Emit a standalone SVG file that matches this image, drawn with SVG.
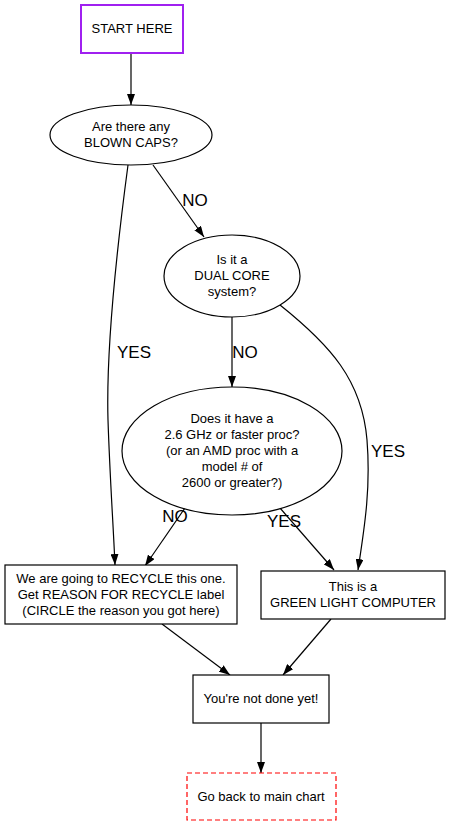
<svg xmlns="http://www.w3.org/2000/svg" width="451" height="827" viewBox="0 0 451 827">
<style>
.n{fill:#fff;stroke:#000;stroke-width:1.2}
.t{font-family:"Liberation Sans",Arial,sans-serif;font-size:13px;fill:#000;text-anchor:middle}
.l{font-family:"Liberation Sans",Arial,sans-serif;font-size:17px;fill:#000;text-anchor:middle}
.e{fill:none;stroke:#000;stroke-width:1.2}
</style>
<defs>
<marker id="a" markerWidth="11" markerHeight="8" refX="11" refY="4" orient="auto" markerUnits="userSpaceOnUse">
<path d="M0,0 L11,4 L0,8 Z" fill="#000"/>
</marker>
</defs>
<rect width="451" height="827" fill="#fff"/>
<g id="edges">
<path class="e" d="M131,53 L131,105" marker-end="url(#a)"/>
<path class="e" d="M153,165 L204,237" marker-end="url(#a)"/>
<path class="e" d="M128,165 C118,240 106,350 108,420 C110,480 113,520 115,565" marker-end="url(#a)"/>
<path class="e" d="M232,317 L232,387" marker-end="url(#a)"/>
<path class="e" d="M280,305 C330,345 362,380 367,440 C371,490 364,530 358,570" marker-end="url(#a)"/>
<path class="e" d="M185,508 L145,566" marker-end="url(#a)"/>
<path class="e" d="M280,508 L334,570" marker-end="url(#a)"/>
<path class="e" d="M162,624 L230,675" marker-end="url(#a)"/>
<path class="e" d="M331,619 L283,675" marker-end="url(#a)"/>
<path class="e" d="M261,723 L261,773" marker-end="url(#a)"/>
<text class="l" x="195" y="206">NO</text>
<text class="l" x="134" y="358">YES</text>
<text class="l" x="245" y="358">NO</text>
<text class="l" x="388" y="457">YES</text>
<text class="l" x="175" y="522">NO</text>
<text class="l" x="284" y="527">YES</text>
</g>
<g id="start">
<rect x="81" y="5" width="102" height="48" fill="#fff" stroke="#a020f0" stroke-width="2"/>
<text class="t" x="132" y="33">START HERE</text>
</g>
<g id="caps">
<ellipse class="n" cx="131" cy="135" rx="81" ry="30"/>
<text class="t" x="131" y="131">Are there any</text>
<text class="t" x="131" y="147">BLOWN CAPS?</text>
</g>
<g id="dual">
<ellipse class="n" cx="232" cy="276" rx="68" ry="41"/>
<text class="t" x="232" y="264">Is it a</text>
<text class="t" x="232" y="280">DUAL CORE</text>
<text class="t" x="232" y="296">system?</text>
</g>
<g id="ghz">
<ellipse class="n" cx="232" cy="451" rx="110" ry="64"/>
<text class="t" x="232" y="423">Does it have a</text>
<text class="t" x="232" y="439">2.6 GHz or faster proc?</text>
<text class="t" x="232" y="455">(or an AMD proc with a</text>
<text class="t" x="232" y="471">model # of</text>
<text class="t" x="232" y="487">2600 or greater?)</text>
</g>
<g id="recycle">
<rect class="n" x="5" y="565" width="232" height="59"/>
<text class="t" x="121" y="583">We are going to RECYCLE this one.</text>
<text class="t" x="121" y="599">Get REASON FOR RECYCLE label</text>
<text class="t" x="121" y="615">(CIRCLE the reason you got here)</text>
</g>
<g id="green">
<rect class="n" x="261" y="571" width="184" height="48"/>
<text class="t" x="353" y="591">This is a</text>
<text class="t" x="353" y="607">GREEN LIGHT COMPUTER</text>
</g>
<g id="notdone">
<rect class="n" x="193" y="675" width="136" height="48"/>
<text class="t" x="261" y="703">You're not done yet!</text>
</g>
<g id="goback">
<rect x="187" y="773" width="149" height="47" fill="#fff" stroke="#f00" stroke-width="1.2" stroke-dasharray="5,3"/>
<text class="t" x="261" y="801">Go back to main chart</text>
</g>
</svg>
